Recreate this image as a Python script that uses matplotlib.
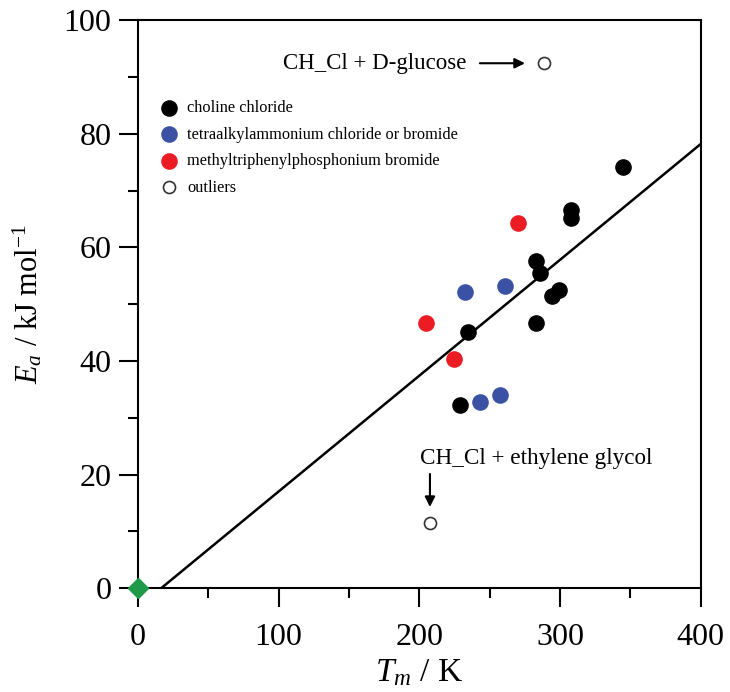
import matplotlib
matplotlib.use("Agg")
import matplotlib.pyplot as plt
from matplotlib.ticker import MultipleLocator

plt.rcParams['font.family'] = ['Liberation Serif', 'DejaVu Serif']
plt.rcParams['mathtext.fontset'] = 'custom'
plt.rcParams['mathtext.rm'] = 'Liberation Serif'
plt.rcParams['mathtext.it'] = 'Liberation Serif:italic'

# data (Tm in K, Ea in kJ/mol)
choline_tm = [344.8, 308.1, 308.1, 283.2, 285.6, 299.3, 293.9, 283.2, 234.2, 228.8]
choline_ea = [74.1, 66.5, 65.1, 57.6, 55.5, 52.5, 51.5, 46.6, 45.1, 32.3]
tetra_tm = [260.7, 232.3, 243.0, 257.2]
tetra_ea = [53.2, 52.1, 32.8, 34.0]
phos_tm = [269.8, 204.6, 224.5]
phos_ea = [64.3, 46.6, 40.4]
outlier_tm = [288.5, 207.5]
outlier_ea = [92.4, 11.4]
origin_tm = [0]
origin_ea = [0]
fit_tm = [16.5, 400]
fit_ea = [0, 78.2]

fig = plt.figure(figsize=(7.3, 6.92), dpi=100)
ax = fig.add_axes([0.189, 0.150, 0.771, 0.821])

ax.plot(fit_tm, fit_ea, color='black', lw=1.8, zorder=2)

ax.scatter(choline_tm, choline_ea, s=120, color='black', zorder=3, label='choline chloride')
ax.scatter(tetra_tm, tetra_ea, s=120, color='#3b52a4', zorder=3,
           label='tetraalkylammonium chloride or bromide')
ax.scatter(phos_tm, phos_ea, s=120, color='#ec1c24', zorder=3,
           label='methyltriphenylphosphonium bromide')
ax.scatter(outlier_tm, outlier_ea, s=75, facecolor='white', edgecolor='#333333',
           linewidth=1.2, zorder=3, label='outliers')
ax.plot(origin_tm, origin_ea, marker='D', ms=10, color='#1e9a48', ls='none',
        clip_on=False, zorder=5)

# annotations
ax.text(103, 92.4, 'CH_Cl + D-glucose', fontsize=16.5, ha='left', va='center')
ax.annotate('', xy=(277, 92.4), xytext=(241, 92.4),
            arrowprops=dict(arrowstyle='-|>', color='black', lw=1.5, mutation_scale=15))
ax.text(200.5, 22.8, 'CH_Cl + ethylene glycol', fontsize=16.7, ha='left', va='center')
ax.annotate('', xy=(207.5, 13.8), xytext=(207.5, 20.6),
            arrowprops=dict(arrowstyle='-|>', color='black', lw=1.5, mutation_scale=15))

ax.set_xlim(0, 400)
ax.set_ylim(0, 100)
ax.xaxis.set_major_locator(MultipleLocator(100))
ax.xaxis.set_minor_locator(MultipleLocator(50))
ax.yaxis.set_major_locator(MultipleLocator(20))
ax.yaxis.set_minor_locator(MultipleLocator(10))
ax.tick_params(which='both', direction='out', width=1.5, top=False, right=False)
ax.tick_params(which='major', length=14, labelsize=23)
ax.tick_params(axis='x', which='major', pad=11)
ax.tick_params(axis='y', which='major', pad=5)
ax.tick_params(which='minor', length=7)
for sp in ax.spines.values():
    sp.set_linewidth(1.5)

ax.set_xlabel(r'$T_m$ / K', fontsize=24, labelpad=4)
ax.set_ylabel(r'$E_a$ / kJ mol$^{-1}$', fontsize=22, labelpad=14)

ax.legend(loc='upper left', bbox_to_anchor=(0.0, 0.885), frameon=False, fontsize=11.8,
          handletextpad=0.1, labelspacing=0.64, borderaxespad=0.5, scatterpoints=1)

fig.savefig('out.png', dpi=100)
